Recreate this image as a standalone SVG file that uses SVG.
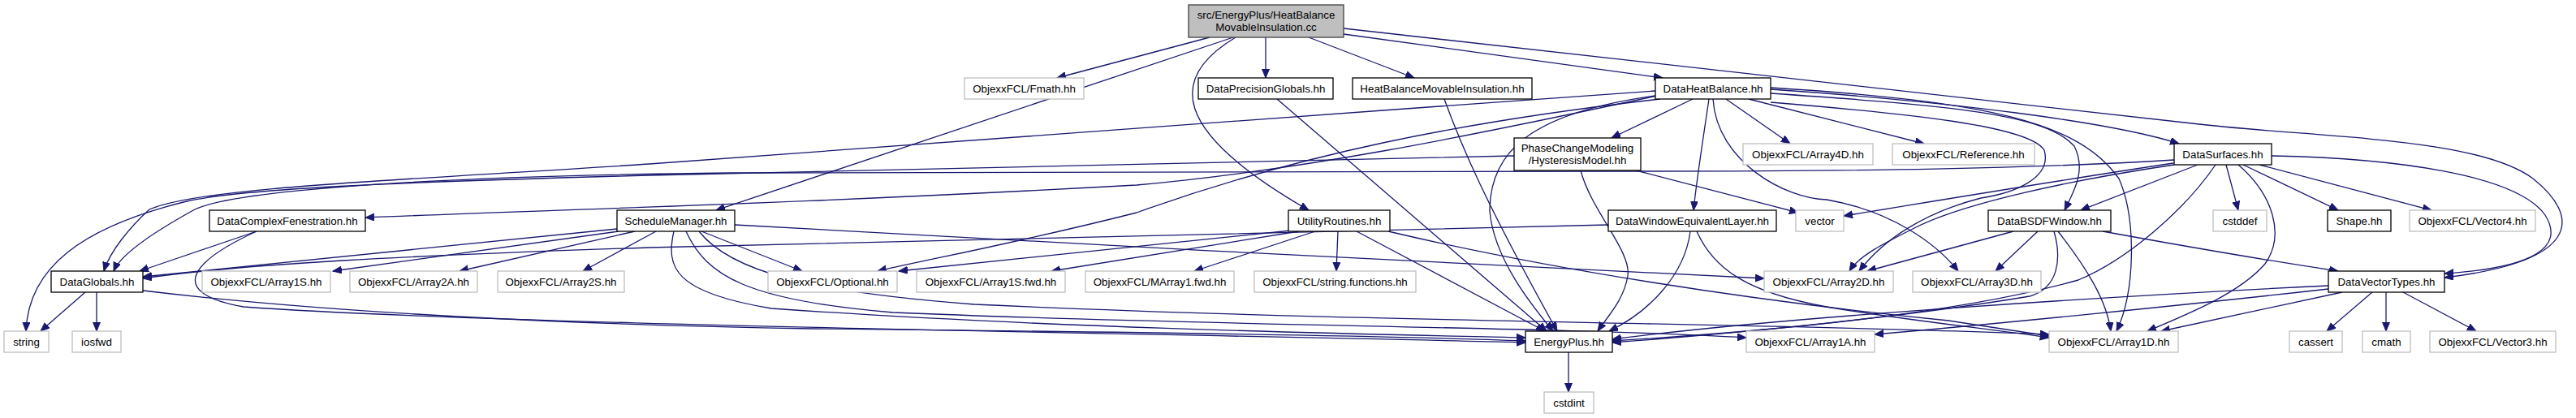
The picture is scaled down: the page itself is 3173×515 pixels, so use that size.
<svg xmlns="http://www.w3.org/2000/svg" width="3173" height="515" viewBox="0 0 3173 515">
<style>
.n rect{fill:#fff;stroke:#000;stroke-width:1.3}
.x rect{fill:#fff;stroke:#bfbfbf;stroke-width:1.3}
.r rect{fill:#bfbfbf;stroke:#404040;stroke-width:1.3}
text{font-family:"Liberation Sans",Arial,sans-serif;font-size:13.33px;text-anchor:middle;fill:#000}
#edges path{fill:none;stroke:#191970;stroke-width:1.3;marker-end:url(#a)}
</style>
<defs>
<marker id="a" markerUnits="userSpaceOnUse" markerWidth="12" markerHeight="10" refX="11" refY="4.5" orient="auto"><path d="M0,0 L11,4.5 L0,9 z" fill="#191970" stroke="#191970" stroke-width="1"/></marker>
</defs>
<rect width="3173" height="515" fill="#fff"/>
<g id="edges">
<path d="M1490,46 L1302,96"/>
<path d="M1559,46 L1559,96"/>
<path d="M1612,46 L1742,96"/>
<path d="M1655,42 L2048,96"/>
<path d="M1655,35 L2700,152 C2850,170 3050,168 3120,220 C3180,268 3178,322 3011,342"/>
<path d="M1519,46 L882,259"/>
<path d="M1522,46 C1440,95 1440,160 1612,259"/>
<path d="M2085,122 L1985,170"/>
<path d="M2126,122 L2205,177"/>
<path d="M2154,122 L2370,177"/>
<path d="M2105,122 C2098,170 2090,220 2086,259"/>
<path d="M2181,110 C2400,125 2600,150 2684,177"/>
<path d="M2041,118 C1800,170 1600,210 1400,228 C1000,250 700,258 450,268"/>
<path d="M2045,122 C1800,150 1600,190 1400,262 C1250,300 1150,318 1081,334"/>
<path d="M2039,118 C1880,140 1835,190 1835,260 C1840,320 1890,380 1913,408"/>
<path d="M2181,108 C2450,125 2560,150 2610,220 C2632,270 2630,360 2607,408"/>
<path d="M2181,126 C2350,140 2500,155 2518,185 C2528,220 2480,238 2440,244 C2370,262 2320,295 2290,334"/>
<path d="M2110,122 C2115,200 2200,245 2250,246 C2330,260 2385,300 2412,334"/>
<path d="M2039,112 C1600,143 1100,180 800,202 C500,222 250,230 184,258 C160,280 135,310 128,334"/>
<path d="M2181,115 C2400,130 2520,140 2555,180 C2570,210 2555,235 2543,259"/>
<path d="M1865,192 C1700,195 1000,212 800,216 C500,224 300,232 230,248 C100,280 35,330 32,408"/>
<path d="M1947,210 C1960,260 2010,310 2005,340 C2000,370 1980,390 1968,408"/>
<path d="M2015,210 L2215,262"/>
<path d="M2678,197 C2500,208 2300,211 2000,211 L900,213 C600,216 300,230 240,258 C200,280 150,310 140,334"/>
<path d="M2677,201 C2550,220 2400,245 2271,266"/>
<path d="M2678,203 C2550,222 2420,250 2360,280 C2320,300 2290,315 2278,334"/>
<path d="M2707,203 L2563,259"/>
<path d="M2742,203 L2757,259"/>
<path d="M2763,203 L2880,259"/>
<path d="M2783,203 L2995,259"/>
<path d="M2798,192 C2950,195 3100,215 3135,265 C3160,305 3120,330 3011,337"/>
<path d="M2757,203 C2800,240 2815,290 2790,325 C2760,360 2700,385 2645,408"/>
<path d="M2729,203 C2690,260 2620,320 2560,345 C2400,390 2150,410 1986,420"/>
<path d="M316,285 L172,334"/>
<path d="M316,285 C240,320 200,360 300,378 C600,400 1400,410 1879,422"/>
<path d="M760,282 L176,341"/>
<path d="M762,285 L410,334"/>
<path d="M782,285 L566,334"/>
<path d="M808,285 L718,334"/>
<path d="M864,285 L988,334"/>
<path d="M830,285 C820,330 830,360 950,380 C1300,405 1700,412 1879,416"/>
<path d="M845,285 C870,340 920,370 1100,385 C1500,402 1900,402 2151,416"/>
<path d="M861,285 C900,335 1000,360 1200,375 C1700,398 2200,398 2524,412"/>
<path d="M905,277 C1300,300 1800,325 2173,343"/>
<path d="M1590,284 L1107,334"/>
<path d="M1600,285 L1295,334"/>
<path d="M1620,285 L1471,334"/>
<path d="M1648,285 L1646,334"/>
<path d="M1671,285 L1903,408"/>
<path d="M1710,285 C1900,330 2150,370 2400,395 L2524,414"/>
<path d="M1981,277 C1700,285 1200,295 800,305 C500,315 300,325 176,343"/>
<path d="M2082,285 C2075,340 2030,385 1982,408"/>
<path d="M2090,285 C2110,330 2150,360 2250,378 C2350,395 2450,405 2524,416"/>
<path d="M1573,122 L1905,408"/>
<path d="M1779,122 C1800,180 1830,250 1918,408"/>
<path d="M105,360 L50,408"/>
<path d="M119,360 L119,408"/>
<path d="M176,358 C400,385 700,400 1000,405 C1500,410 1750,415 1879,420"/>
<path d="M2510,285 L2458,334"/>
<path d="M2480,285 L2300,334"/>
<path d="M2530,285 C2540,320 2535,355 2500,365 C2350,390 2150,410 1986,422"/>
<path d="M2535,285 C2570,330 2595,370 2600,408"/>
<path d="M2590,285 C2700,305 2800,322 2880,334"/>
<path d="M2868,352 C2600,365 2200,390 1986,418"/>
<path d="M2868,356 C2700,375 2450,400 2309,412"/>
<path d="M2885,360 L2662,408"/>
<path d="M2922,360 L2866,408"/>
<path d="M2939,360 L2939,408"/>
<path d="M2960,360 L3050,408"/>
<path d="M1932,434 L1932,483"/>
</g>
<g id="root" class="r"><rect x="1464" y="6" width="191" height="40"/><text x="1559.5" y="23">src/EnergyPlus/HeatBalance</text><text x="1559.5" y="38">MovableInsulation.cc</text></g>
<g id="n_fmath" class="x"><rect x="1188" y="96" width="147" height="26"/><text x="1261.5" y="114">ObjexxFCL/Fmath.hh</text></g>
<g id="n_dpg" class="n"><rect x="1476" y="96" width="166" height="26"/><text x="1559" y="114">DataPrecisionGlobals.hh</text></g>
<g id="n_hbmi" class="n"><rect x="1666" y="96" width="221" height="26"/><text x="1776.5" y="114">HeatBalanceMovableInsulation.hh</text></g>
<g id="n_dhb" class="n"><rect x="2039" y="96" width="142" height="26"/><text x="2110" y="114">DataHeatBalance.hh</text></g>
<g id="n_pcm" class="n"><rect x="1865" y="170" width="156" height="40"/><text x="1943" y="187">PhaseChangeModeling</text><text x="1943" y="202">/HysteresisModel.hh</text></g>
<g id="n_a4d" class="x"><rect x="2147" y="177" width="160" height="26"/><text x="2227" y="195">ObjexxFCL/Array4D.hh</text></g>
<g id="n_ref" class="x"><rect x="2331" y="177" width="175" height="26"/><text x="2418.5" y="195">ObjexxFCL/Reference.hh</text></g>
<g id="n_ds" class="n"><rect x="2678" y="177" width="120" height="26"/><text x="2738" y="195">DataSurfaces.hh</text></g>
<g id="n_dcf" class="n"><rect x="258" y="259" width="192" height="26"/><text x="354" y="277">DataComplexFenestration.hh</text></g>
<g id="n_sm" class="n"><rect x="760" y="259" width="145" height="26"/><text x="832.5" y="277">ScheduleManager.hh</text></g>
<g id="n_ur" class="n"><rect x="1587" y="259" width="125" height="26"/><text x="1649.5" y="277">UtilityRoutines.hh</text></g>
<g id="n_dwel" class="n"><rect x="1981" y="259" width="207" height="26"/><text x="2084.5" y="277">DataWindowEquivalentLayer.hh</text></g>
<g id="n_vector" class="x"><rect x="2212" y="259" width="59" height="26"/><text x="2241.5" y="277">vector</text></g>
<g id="n_bsdf" class="n"><rect x="2449" y="259" width="151" height="26"/><text x="2524.5" y="277">DataBSDFWindow.hh</text></g>
<g id="n_cstddef" class="x"><rect x="2726" y="259" width="66" height="26"/><text x="2759" y="277">cstddef</text></g>
<g id="n_shape" class="n"><rect x="2867" y="259" width="78" height="26"/><text x="2906" y="277">Shape.hh</text></g>
<g id="n_v4" class="x"><rect x="2968" y="259" width="155" height="26"/><text x="3045.5" y="277">ObjexxFCL/Vector4.hh</text></g>
<g id="n_dg" class="n"><rect x="63" y="334" width="113" height="26"/><text x="119.5" y="352">DataGlobals.hh</text></g>
<g id="n_a1s" class="x"><rect x="249" y="334" width="158" height="26"/><text x="328" y="352">ObjexxFCL/Array1S.hh</text></g>
<g id="n_a2a" class="x"><rect x="431" y="334" width="157" height="26"/><text x="509.5" y="352">ObjexxFCL/Array2A.hh</text></g>
<g id="n_a2s" class="x"><rect x="613" y="334" width="156" height="26"/><text x="691" y="352">ObjexxFCL/Array2S.hh</text></g>
<g id="n_opt" class="x"><rect x="946" y="334" width="159" height="26"/><text x="1025.5" y="352">ObjexxFCL/Optional.hh</text></g>
<g id="n_a1sf" class="x"><rect x="1129" y="334" width="183" height="26"/><text x="1220.5" y="352">ObjexxFCL/Array1S.fwd.hh</text></g>
<g id="n_ma1f" class="x"><rect x="1337" y="334" width="183" height="26"/><text x="1428.5" y="352">ObjexxFCL/MArray1.fwd.hh</text></g>
<g id="n_strf" class="x"><rect x="1545" y="334" width="199" height="26"/><text x="1644.5" y="352">ObjexxFCL/string.functions.hh</text></g>
<g id="n_a2d" class="x"><rect x="2173" y="334" width="159" height="26"/><text x="2252.5" y="352">ObjexxFCL/Array2D.hh</text></g>
<g id="n_a3d" class="x"><rect x="2356" y="334" width="158" height="26"/><text x="2435" y="352">ObjexxFCL/Array3D.hh</text></g>
<g id="n_dvt" class="n"><rect x="2868" y="334" width="143" height="26"/><text x="2939.5" y="352">DataVectorTypes.hh</text></g>
<g id="n_string" class="x"><rect x="5" y="408" width="55" height="26"/><text x="32.5" y="426">string</text></g>
<g id="n_iosfwd" class="x"><rect x="89" y="408" width="60" height="26"/><text x="119" y="426">iosfwd</text></g>
<g id="n_ep" class="n"><rect x="1879" y="408" width="107" height="26"/><text x="1932.5" y="426">EnergyPlus.hh</text></g>
<g id="n_a1a" class="x"><rect x="2151" y="408" width="158" height="26"/><text x="2230" y="426">ObjexxFCL/Array1A.hh</text></g>
<g id="n_a1d" class="x"><rect x="2524" y="408" width="159" height="26"/><text x="2603.5" y="426">ObjexxFCL/Array1D.hh</text></g>
<g id="n_cassert" class="x"><rect x="2820" y="408" width="65" height="26"/><text x="2852.5" y="426">cassert</text></g>
<g id="n_cmath" class="x"><rect x="2910" y="408" width="59" height="26"/><text x="2939.5" y="426">cmath</text></g>
<g id="n_v3" class="x"><rect x="2993" y="408" width="155" height="26"/><text x="3070.5" y="426">ObjexxFCL/Vector3.hh</text></g>
<g id="n_cstdint" class="x"><rect x="1902" y="483" width="61" height="26"/><text x="1932.5" y="501">cstdint</text></g>
</svg>
